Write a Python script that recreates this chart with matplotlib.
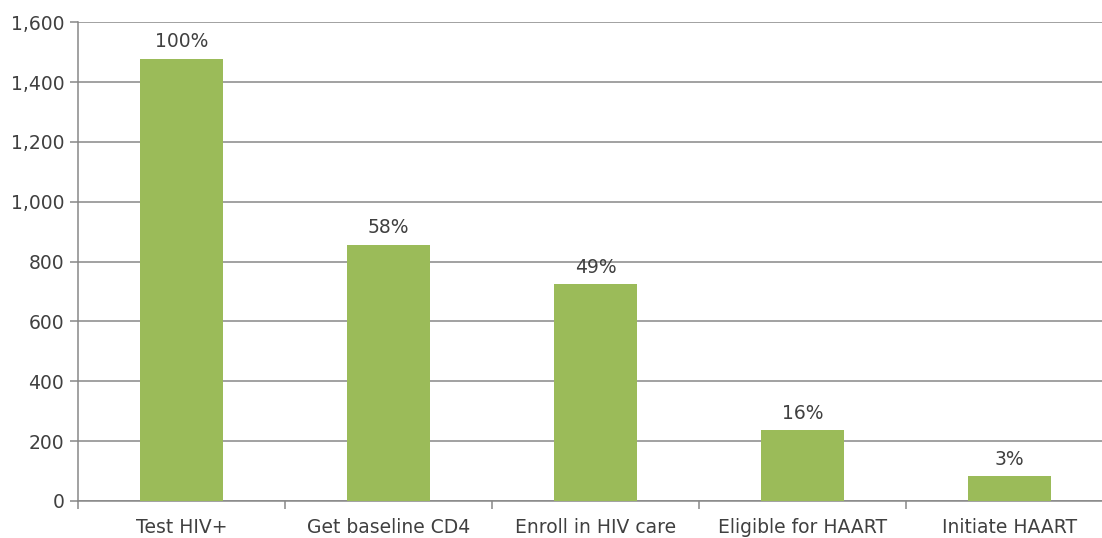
import numpy as np
import matplotlib.pyplot as plt

categories = ['Test HIV+', 'Get baseline CD4', 'Enroll in HIV care', 'Eligible for HAART', 'Initiate HAART']
counts = [1478, 857, 724, 237, 83]
pct_labels = ['100%', '58%', '49%', '16%', '3%']

plt.rcParams['font.family'] = ['DejaVu Sans']
text_col = '#404040'
grid_col = '#878787'

fig = plt.figure(figsize=[11.02, 5.38], dpi=100)
ax = fig.add_axes([0.0708, 0.0688, 0.939, 0.890])

x = np.arange(len(categories))
ax.bar(x, counts, width=0.4, color='#9BBB59', zorder=3)

for xi, c, lab in zip(x, counts, pct_labels):
    ax.text(xi, c + 25, lab, ha='center', va='bottom', fontsize=13.5, color=text_col)

ax.set_xlim(-0.5, len(categories) - 0.5)
ax.set_ylim(0, 1600)
ax.set_yticks(np.arange(0, 1601, 200))
ax.set_yticklabels(['{:,}'.format(v) for v in range(0, 1601, 200)])
ax.yaxis.grid(True, color=grid_col, lw=1.1, zorder=0)

ax.set_xticks(x)
ax.set_xticklabels(categories)
ax.set_xticks(np.arange(-0.5, len(categories)), minor=True)
ax.tick_params(axis='x', which='major', length=0, pad=12, labelsize=13.5, labelcolor=text_col)
ax.tick_params(axis='x', which='minor', length=6, color=grid_col, width=1.1)
ax.tick_params(axis='y', length=6, color=grid_col, width=1.1, labelsize=13.5, labelcolor=text_col, pad=4)

for s in ['top', 'right']:
    ax.spines[s].set_visible(False)
for s in ['left', 'bottom']:
    ax.spines[s].set_color(grid_col)
    ax.spines[s].set_linewidth(1.1)

plt.savefig('out.png', dpi=100)
